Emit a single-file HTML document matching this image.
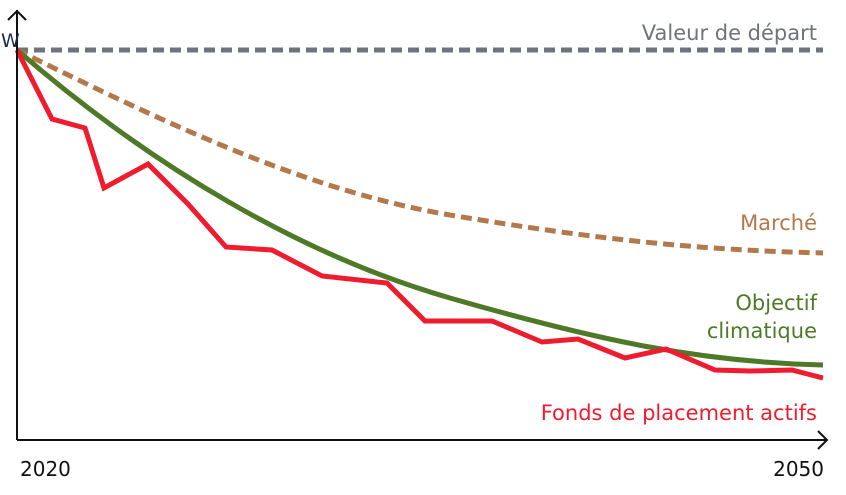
<!DOCTYPE html>
<html><head><meta charset="utf-8"><style>body{margin:0;background:#fff}svg{display:block}text{font-family:"DejaVu Sans","Liberation Sans",sans-serif}</style></head><body>
<svg width="846" height="495" viewBox="0 0 846 495">
<line x1="17" y1="50" x2="823" y2="50" stroke="#6f737b" stroke-width="5" stroke-dasharray="11,6"/>
<path d="M17,50 C150,115 300,190 450,215 S700,250 823,253" fill="none" stroke="#b5784a" stroke-width="5" stroke-dasharray="11,6"/>
<path d="M17,50 C150,165 300,255 450,298 S700,362 823,365" fill="none" stroke="#4e7a28" stroke-width="5"/>
<polyline points="17,50 52,119 85,128 104,188 148,164 188,204 226,247 272,250 322,276 387,283 425,321 492,321 542,342 578,339 625,358 666,349 715,370 750,371 792,370 823,378" fill="none" stroke="#ee1c2e" stroke-width="5" stroke-linejoin="miter"/>
<line x1="17" y1="10" x2="17" y2="440" stroke="#111" stroke-width="2"/>
<line x1="17" y1="440" x2="827" y2="440" stroke="#111" stroke-width="2"/>
<polyline points="8,20 17,11 26,20" fill="none" stroke="#111" stroke-width="2"/>
<polyline points="818,431 827,440 818,449" fill="none" stroke="#111" stroke-width="2"/>
<text x="1" y="47" font-size="19" fill="#1a2a4a">W</text>
<text x="817" y="40" font-size="21" fill="#6f737b" text-anchor="end">Valeur de départ</text>
<text x="817" y="230" font-size="21" fill="#b5784a" text-anchor="end">Marché</text>
<text x="817" y="310" font-size="21" fill="#4e7a28" text-anchor="end">Objectif</text>
<text x="817" y="338" font-size="21" fill="#4e7a28" text-anchor="end">climatique</text>
<text x="817" y="420" font-size="21" fill="#ee1c2e" text-anchor="end">Fonds de placement actifs</text>
<text x="20" y="476" font-size="20" fill="#111">2020</text>
<text x="824" y="476" font-size="20" fill="#111" text-anchor="end">2050</text>
</svg></body></html>
